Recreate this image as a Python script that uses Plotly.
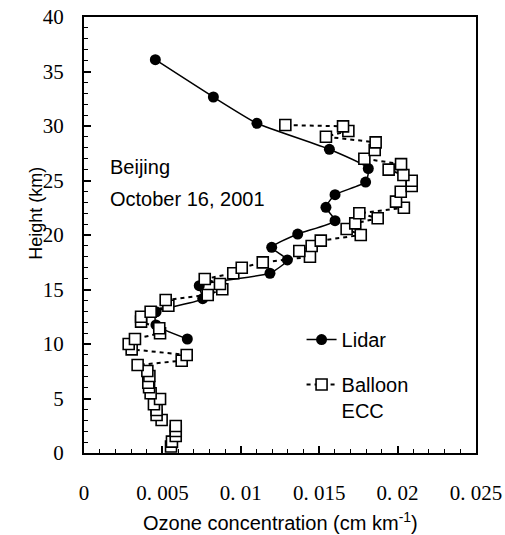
import plotly.graph_objects as go

# Lidar profile (ozone concentration, height km)
lidar_ozone = [0.00455, 0.00825, 0.01103, 0.01565, 0.01813, 0.01796, 0.01601, 0.01543,
               0.01601, 0.01363, 0.01197, 0.01297, 0.01186, 0.00735, 0.00757, 0.00460,
               0.00459, 0.00659]
lidar_height = [36.08, 32.66, 30.25, 27.86, 26.10, 24.86, 23.70, 22.54,
                21.31, 20.09, 18.87, 17.71, 16.49, 15.35, 14.16, 12.95,
                11.75, 10.46]

# Balloon ECC sounding
ecc_height = [0.6, 1.04, 1.56, 2.02, 2.48, 3.03, 3.49, 3.94, 4.47, 4.95, 5.48, 6.03, 6.45,
              7.06, 7.52, 8.07, 8.47, 8.99, 9.51, 10.0, 10.46, 10.98, 11.44, 12.05, 12.5,
              12.96, 13.51, 14.04, 14.5, 15.02, 15.5, 15.96, 16.49, 17.0, 17.49, 18.0,
              18.53, 18.99, 19.48, 20.0, 20.55, 21.07, 21.53, 21.99, 22.5, 23.06, 23.97,
              24.5, 24.98, 25.5, 26.0, 26.5, 27.0, 27.8, 28.5, 29.02, 29.54, 29.97, 30.09]
ecc_ozone = [0.00555, 0.00561, 0.00585, 0.00585, 0.00585, 0.00495, 0.00463, 0.00463, 0.00446,
             0.00485, 0.00425, 0.00415, 0.00410, 0.00417, 0.00404, 0.00342, 0.00623, 0.00655,
             0.00304, 0.00285, 0.00325, 0.00485, 0.00480, 0.00364, 0.00364, 0.00425, 0.00538,
             0.00521, 0.00789, 0.00882, 0.00867, 0.00770, 0.00952, 0.01006, 0.01140, 0.01441,
             0.01373, 0.01452, 0.01510, 0.01765, 0.01675, 0.01730, 0.01873, 0.01756, 0.02040,
             0.01990, 0.02020, 0.02090, 0.02090, 0.02037, 0.01943, 0.02022, 0.01788, 0.01854,
             0.01860, 0.01543, 0.01686, 0.01652, 0.01284]

x_tick_vals = [0, 0.005, 0.01, 0.015, 0.02, 0.025]
x_tick_text = ["0", "0. 005", "0. 01", "0. 015", "0. 02", "0. 025"]
y_tick_vals = [0, 5, 10, 15, 20, 25, 30, 35, 40]
y_tick_text = ["0", "5", "10", "15", "20", "25", "30", "35", "40"]

sans = "Arial, Liberation Sans, sans-serif"
serif = "SimSun, Liberation Serif, serif"

fig = go.Figure()
fig.add_trace(go.Scatter(
    x=lidar_ozone, y=lidar_height, mode="lines+markers", name="Lidar",
    legendgroup="a",
    line=dict(color="black", width=1.5, shape="spline", smoothing=0.5),
    marker=dict(symbol="circle", size=11, color="black"),
))
fig.add_trace(go.Scatter(
    x=ecc_ozone, y=ecc_height, mode="lines+markers", name="Balloon<br>ECC",
    legendgroup="b",
    line=dict(color="black", width=2, dash="4px,4px"),
    marker=dict(symbol="square", size=11, color="white", line=dict(color="black", width=1.6)),
))

fig.update_layout(
    width=505, height=535,
    margin=dict(l=84, r=29, t=17, b=82, autoexpand=False),
    paper_bgcolor="white", plot_bgcolor="white",
    showlegend=True,
    legend=dict(x=0.555, y=0.305, xanchor="left", yanchor="top",
                font=dict(family=sans, size=20, color="black"),
                bgcolor="rgba(0,0,0,0)", traceorder="grouped", tracegroupgap=16,
                valign="top"),
    annotations=[
        dict(text="Beijing", x=0.0015, y=26.2, xref="x", yref="y", xanchor="left",
             yanchor="middle", showarrow=False, font=dict(family=sans, size=20, color="black")),
        dict(text="October 16, 2001", x=0.0015, y=23.3, xref="x", yref="y", xanchor="left",
             yanchor="middle", showarrow=False, font=dict(family=sans, size=20, color="black")),
        dict(text="Ozone concentration (cm km<sup>-1</sup>)", x=0.5, y=-0.156, xref="paper",
             yref="paper", xanchor="center", yanchor="middle", showarrow=False,
             font=dict(family=sans, size=20, color="black")),
        dict(text="Height (km)", x=-0.121, y=0.55, xref="paper", yref="paper",
             xanchor="center", yanchor="middle", showarrow=False, textangle=-90,
             font=dict(family=sans, size=18, color="black")),
    ],
)
fig.update_xaxes(
    range=[0, 0.025], tickmode="array", tickvals=x_tick_vals, ticktext=x_tick_text,
    ticks="inside", ticklen=7, tickwidth=1.5, tickcolor="black",
    minor=dict(dtick=0.001, ticks="inside", ticklen=4, tickwidth=1.2, tickcolor="black"),
    showgrid=False, zeroline=False, showline=True, linecolor="black", linewidth=2,
    mirror=True, tickfont=dict(family=serif, size=21, color="black"), ticklabelstandoff=20,
    automargin=False,
)
fig.update_yaxes(
    range=[0, 40], tickmode="array", tickvals=y_tick_vals, ticktext=y_tick_text,
    ticks="inside", ticklen=7, tickwidth=1.5, tickcolor="black",
    minor=dict(dtick=1, ticks="inside", ticklen=4, tickwidth=1.2, tickcolor="black"),
    showgrid=False, zeroline=False, showline=True, linecolor="black", linewidth=2,
    mirror=True, tickfont=dict(family=serif, size=21, color="black"), ticklabelstandoff=14,
    automargin=False,
)

# remove the browser's default page margin so the 505x535 figure fills the window exactly
fig.write_html(
    "out.html",
    config={"displayModeBar": False},
    post_script="document.body.style.margin='0';document.body.style.overflow='hidden';",
)
